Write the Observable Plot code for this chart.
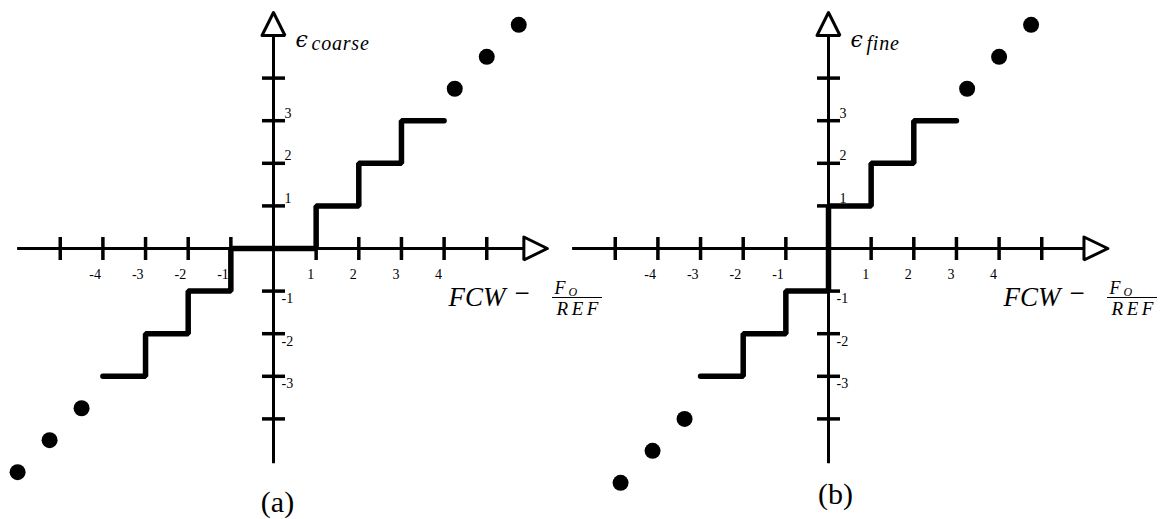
<!DOCTYPE html>
<html><head><meta charset="utf-8">
<script src="https://cdn.jsdelivr.net/npm/d3@7"></script>
<script src="https://cdn.jsdelivr.net/npm/@observablehq/plot@0.6"></script>
<style>
body{margin:0;background:#fff;}
#row{position:relative;width:1164px;height:519px;overflow:hidden;background:#fff;}
#row svg{position:absolute;top:0;overflow:visible;background:transparent;}
</style></head><body><div id="row"></div>
<script>
// ---- data ----
const xTicks = [-5, -4, -3, -2, -1, 1, 2, 3, 4, 5];
const xTickLabels = [-4, -3, -2, -1, 1, 2, 3, 4];
const yTicks = [-4, -3, -2, -1, 1, 2, 3, 4];
const yTickLabels = [-3, -2, -1, 1, 2, 3];

const coarseStepX = [-4, -3, -3, -2, -2, -1, -1, 1, 1, 2, 2, 3, 3, 4];
const coarseStepY = [-3, -3, -2, -2, -1, -1, 0, 0, 1, 1, 2, 2, 3, 3];
const coarseDotX = [-6, -5.25, -4.5, 4.25, 5, 5.75];
const coarseDotY = [-5.25, -4.5, -3.75, 3.75, 4.5, 5.25];

const fineStepX = [-3, -2, -2, -1, -1, 0, 0, 1, 1, 2, 2, 3];
const fineStepY = [-3, -3, -2, -2, -1, -1, 1, 1, 2, 2, 3, 3];
const fineDotX = [-4.875, -4.125, -3.375, 3.25, 4, 4.75];
const fineDotY = [-5.5, -4.75, -4, 3.75, 4.5, 5.25];

const subscripts = ["coarse", "fine"];
const captions = ["(a)", "(b)"];

// ---- layout ----
const unitX = 42.65, unitY = 42.6, oy = 248;
const xAxisStart = -6.0, yAxisBottom = -5.05, yArrowBase = 5.0, yArrowTip = 5.54;
const serif = "Liberation Serif, Times New Roman, serif";

const panels = [
  {left: 0, width: 560, ox: 273, stepX: coarseStepX, stepY: coarseStepY, dotX: coarseDotX, dotY: coarseDotY,
   sub: subscripts[0], caption: captions[0], capDx: 4, capDy: 263, arrowBase: 5.87, arrowTip: 6.42},
  {left: 560, width: 604, ox: 268, stepX: fineStepX, stepY: fineStepY, dotX: fineDotX, dotY: fineDotY,
   sub: subscripts[1], caption: captions[1], capDx: 7, capDy: 255, arrowBase: 5.99, arrowTip: 6.55}
];

const zip = (xs, ys) => xs.map((x, i) => ({x, y: ys[i]}));

for (const p of panels) {
  const hx = 11.5 / unitY, hy = 11.5 / unitX;
  const xArrow = [
    {x: p.arrowBase, y: hx}, {x: p.arrowTip, y: 0}, {x: p.arrowBase, y: -hx}, {x: p.arrowBase, y: hx}, {x: p.arrowTip, y: 0}
  ];
  const yArrow = [
    {x: -hy, y: yArrowBase}, {x: 0, y: yArrowTip}, {x: hy, y: yArrowBase}, {x: -hy, y: yArrowBase}, {x: 0, y: yArrowTip}
  ];
  const txt = {x: () => 0, y: () => 0, fill: "black", fontFamily: serif, lineAnchor: "bottom", textAnchor: "start"};
  const one = [0];
  const chart = Plot.plot({
    width: p.width,
    height: 519,
    margin: 0,
    style: {background: "transparent", overflow: "visible"},
    x: {domain: [0, 1], range: [p.ox, p.ox + unitX], axis: null},
    y: {domain: [0, 1], range: [oy, oy - unitY], axis: null},
    marks: [
      Plot.ruleY([0], {x1: xAxisStart, x2: p.arrowBase, stroke: "black", strokeWidth: 3}),
      Plot.ruleX([0], {y1: yAxisBottom, y2: yArrowBase, stroke: "black", strokeWidth: 3}),
      Plot.ruleX(xTicks, {x: d => d, y1: -12 / unitY, y2: 11 / unitY, stroke: "black", strokeWidth: 3.5}),
      Plot.ruleY(yTicks, {y: d => d, x1: -11 / unitX, x2: 12 / unitX, stroke: "black", strokeWidth: 3.5}),
      Plot.line(zip(p.stepX, p.stepY), {x: "x", y: "y", stroke: "black", strokeWidth: 5.5, strokeLinejoin: "miter", strokeLinecap: "round"}),
      Plot.dot(zip(p.dotX, p.dotY), {x: "x", y: "y", r: 8, fill: "black"}),
      Plot.line(xArrow, {x: "x", y: "y", fill: "white", stroke: "black", strokeWidth: 3, strokeLinejoin: "miter"}),
      Plot.line(yArrow, {x: "x", y: "y", fill: "white", stroke: "black", strokeWidth: 3, strokeLinejoin: "miter"}),
      // tick labels
      Plot.text(xTickLabels, {x: d => d, y: () => 0, text: d => String(d), textAnchor: "end", lineAnchor: "bottom", dx: -2, dy: 30, fontSize: 14, fontFamily: serif, fill: "black"}),
      Plot.text(yTickLabels.filter(d => d > 0), {x: () => 0, y: d => d, text: d => String(d), textAnchor: "start", lineAnchor: "bottom", dx: 11, dy: -3, fontSize: 14, fontFamily: serif, fill: "black"}),
      Plot.text(yTickLabels.filter(d => d < 0), {x: () => 0, y: d => d, text: d => String(d), textAnchor: "start", lineAnchor: "bottom", dx: 8, dy: 12, fontSize: 14, fontFamily: serif, fill: "black"}),
      // y-axis label
      Plot.text(one, {...txt, text: () => "ϵ", dx: 22, dy: -202, fontSize: 22, fontStyle: "italic", fontFamily: "DejaVu Serif, serif"}),
      Plot.text(one, {...txt, text: () => p.sub, dx: 38, dy: -199, fontSize: 20, fontStyle: "italic"}),
      // x-axis label
      Plot.text(one, {...txt, text: () => "FCW", dx: 175, dy: 57, fontSize: 27, fontStyle: "italic"}),
      Plot.text(one, {...txt, text: () => "\u2212", dx: 241, dy: 53, fontSize: 27}),
      Plot.text(one, {...txt, text: () => "F", dx: 281, dy: 45, fontSize: 18, fontStyle: "italic"}),
      Plot.text(one, {...txt, text: () => "O", dx: 295, dy: 47, fontSize: 12, fontStyle: "italic"}),
      Plot.ruleY([0], {x1: 279 / unitX, x2: 329 / unitX, dy: 49, stroke: "black", strokeWidth: 1.2}),
      Plot.text(one, {...txt, text: () => "REF", dx: 304, dy: 66, fontSize: 19, fontStyle: "italic", textAnchor: "middle"}),
      // caption
      Plot.text(one, {...txt, text: () => p.caption, dx: p.capDx, dy: p.capDy, fontSize: 30, textAnchor: "middle"})
    ]
  });
  chart.style.left = p.left + "px";
  d3.select(chart).selectAll("text").filter(function () { return this.textContent === "REF"; })
    .attr("letter-spacing", 3.5).attr("dx", 1.75);
  d3.select(chart).selectAll("text").filter(function () { return this.textContent === "coarse" || this.textContent === "fine"; })
    .attr("letter-spacing", 0.8);
  document.getElementById("row").appendChild(chart);
}
</script></body></html>
